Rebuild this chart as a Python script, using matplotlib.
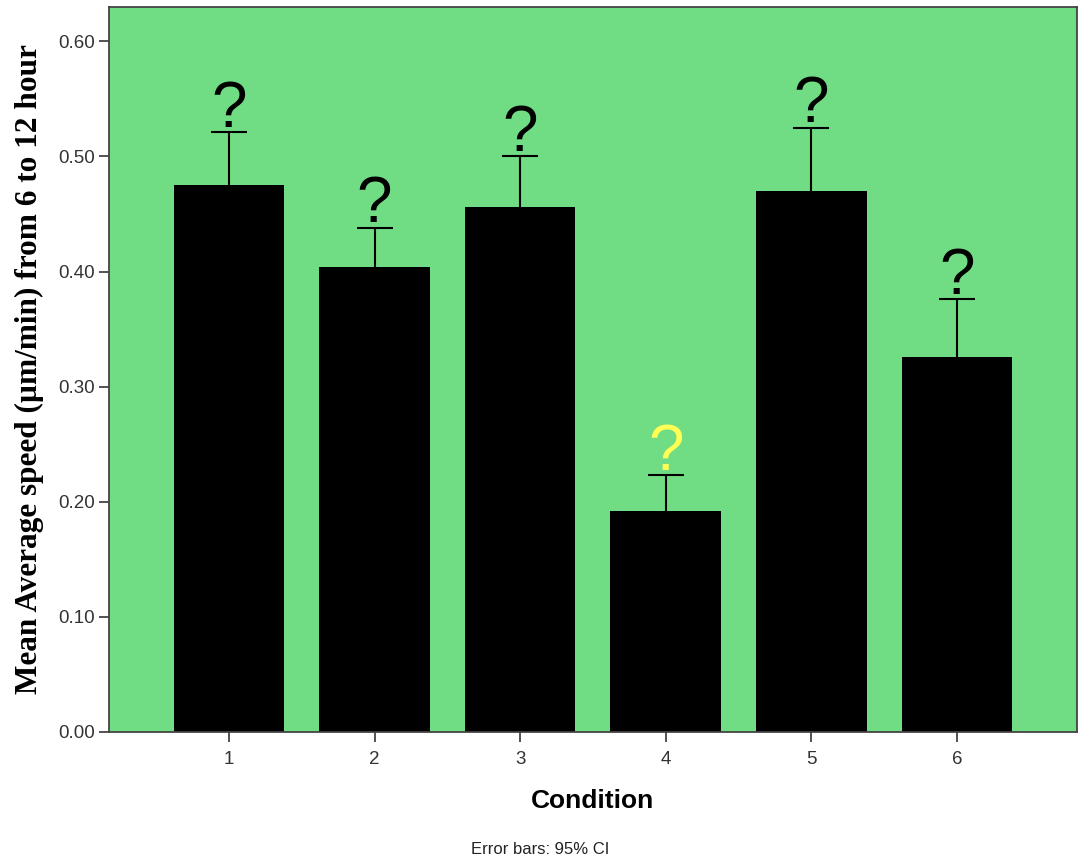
import matplotlib
matplotlib.use("Agg")
import matplotlib.pyplot as plt
import numpy as np

conditions = ["1", "2", "3", "4", "5", "6"]
mean_speed = [0.475, 0.404, 0.456, 0.192, 0.470, 0.326]
ci_upper = [0.521, 0.438, 0.500, 0.223, 0.525, 0.376]
marks = ["?", "?", "?", "?", "?", "?"]
mark_colors = ["black", "black", "black", "#ffff55", "black", "black"]
y_ticks = [0.0, 0.1, 0.2, 0.3, 0.4, 0.5, 0.6]

fig = plt.figure(figsize=(10.79, 8.61), dpi=100)
ax = fig.add_axes([0.101, 0.150, 0.897, 0.842])
ax.set_facecolor("#70dc84")

x = np.arange(1, len(conditions) + 1)
ax.bar(x, mean_speed, width=0.76, color="black", zorder=2)

# only the upper half of the 95% CI is shown
upper = [u - m for u, m in zip(ci_upper, mean_speed)]
_, caps, _ = ax.errorbar(x, mean_speed, yerr=[[0] * len(x), upper], fmt="none",
                         ecolor="black", elinewidth=1.5, capsize=13, capthick=1.5,
                         zorder=3)
caps[0].remove()

for xi, top, mark, col in zip(x, ci_upper, marks, mark_colors):
    ax.annotate(mark, (xi, top), xytext=(0, 4), textcoords="offset points",
                ha="center", va="baseline", fontsize=46, color=col,
                family="Liberation Sans", zorder=4)

ax.set_xlim(0.176, 6.824)
ax.set_ylim(0, 0.63)
ax.set_xticks(x)
ax.set_xticklabels(conditions)
ax.set_yticks(y_ticks)
ax.set_yticklabels([f"{v:.2f}" for v in y_ticks])

for side in ["left", "bottom", "top", "right"]:
    ax.spines[side].set_color("#444444")
    ax.spines[side].set_linewidth(1.3)
ax.tick_params(axis="both", direction="out", length=7, width=1.3, color="#444444",
               labelsize=13.5, labelcolor="#333333", pad=3)
ax.tick_params(axis="x", pad=7)
for lbl in ax.get_xticklabels() + ax.get_yticklabels():
    lbl.set_family("Liberation Sans")

ax.set_xlabel("Condition", fontsize=19, fontweight="bold", family="Liberation Sans",
              labelpad=15)
ax.set_ylabel("Mean Average speed (\u00b5m/min) from 6 to 12 hour", fontsize=22.5,
              fontweight="bold", family="Liberation Serif", labelpad=10)

fig.text(0.501, 0.005, "Error bars: 95% CI", ha="center", va="bottom", fontsize=12,
         family="Liberation Sans", color="#222222")

fig.savefig("out.png", dpi=100)
